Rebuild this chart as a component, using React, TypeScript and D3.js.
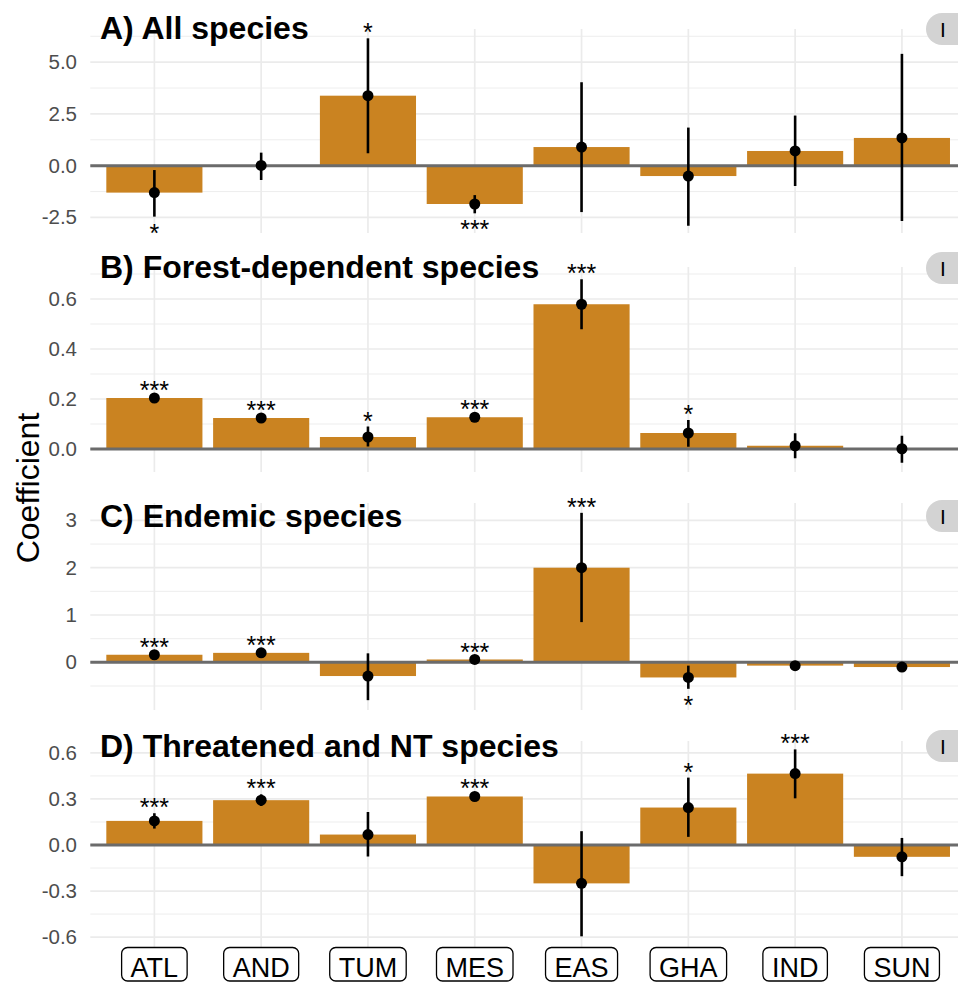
import React, { useEffect, useRef } from "react";
import * as d3 from "d3";

const categories = ["ATL", "AND", "TUM", "MES", "EAS", "GHA", "IND", "SUN"];

const titles = [
  "A) All species",
  "B) Forest-dependent species",
  "C) Endemic species",
  "D) Threatened and NT species",
];

const coefA = [-1.3, 0.01, 3.38, -1.85, 0.9, -0.5, 0.71, 1.34];
const lowerA = [-2.46, -0.69, 0.6, -2.3, -2.24, -2.9, -0.98, -2.67];
const upperA = [-0.21, 0.63, 6.15, -1.42, 4.03, 1.84, 2.42, 5.4];
const sigA = ["*", "", "*", "***", "", "", "", ""];

const coefB = [0.204, 0.124, 0.048, 0.127, 0.579, 0.064, 0.013, 0.001];
const lowerB = [0.196, 0.116, 0.01, 0.119, 0.479, 0.009, -0.037, -0.055];
const upperB = [0.212, 0.132, 0.09, 0.135, 0.679, 0.116, 0.063, 0.053];
const sigB = ["***", "***", "*", "***", "***", "*", "", ""];

const coefC = [0.16, 0.2, -0.29, 0.06, 2.0, -0.32, -0.07, -0.1];
const lowerC = [0.12, 0.16, -0.8, 0.03, 0.85, -0.56, -0.1, -0.13];
const upperC = [0.2, 0.24, 0.19, 0.09, 3.16, -0.07, -0.04, -0.07];
const sigC = ["***", "***", "", "***", "***", "*", "", ""];

const coefD = [0.157, 0.292, 0.068, 0.316, -0.25, 0.244, 0.465, -0.077];
const lowerD = [0.107, 0.254, -0.075, 0.3, -0.595, 0.053, 0.304, -0.203];
const upperD = [0.207, 0.33, 0.215, 0.332, 0.09, 0.439, 0.623, 0.046];
const sigD = ["***", "***", "", "***", "", "*", "***", ""];

const majorA = [-2.5, 0, 2.5, 5];
const minorA = [-1.25, 1.25, 3.75, 6.25];
const majorB = [0, 0.2, 0.4, 0.6];
const minorB = [0.1, 0.3, 0.5, 0.7];
const majorC = [0, 1, 2, 3];
const minorC = [-0.5, 0.5, 1.5, 2.5];
const majorD = [-0.6, -0.3, 0, 0.3, 0.6];
const minorD = [-0.45, -0.15, 0.15, 0.45];

const badgeText = "I";
const yTitle = "Coefficient";

const W = 958;
const H = 982;
const FONT = "'Liberation Sans', Arial, Helvetica, sans-serif";
const BAR = "#CA8321";

export default function App() {
  const ref = useRef<SVGSVGElement>(null);

  useEffect(() => {
    document.body.style.margin = "0";
    const svg = d3.select(ref.current);
    svg.selectAll("*").remove();

    const panels = [
      { coef: coefA, lower: lowerA, upper: upperA, sig: sigA, major: majorA, minor: minorA, fmt: ".1f", domain: [-3.25, 6.6], top: 29, bottom: 233, titleY: 39, badgeY: 29 },
      { coef: coefB, lower: lowerB, upper: upperB, sig: sigB, major: majorB, minor: minorB, fmt: ".1f", domain: [-0.092, 0.728], top: 267, bottom: 472, titleY: 278, badgeY: 268 },
      { coef: coefC, lower: lowerC, upper: upperC, sig: sigC, major: majorC, minor: minorC, fmt: "d", domain: [-1.008, 3.368], top: 503, bottom: 710, titleY: 527, badgeY: 516 },
      { coef: coefD, lower: lowerD, upper: upperD, sig: sigD, major: majorD, minor: minorD, fmt: ".1f", domain: [-0.6645, 0.6775], top: 741, bottom: 947, titleY: 757, badgeY: 746 },
    ];

    const left = 90.3;
    const right = 966;
    const x = d3.scaleBand<string>().domain(categories).range([left, right]).paddingInner(0.1).paddingOuter(0.15);
    const bw = x.bandwidth();
    const cx = (c: string) => (x(c) as number) + bw / 2;

    panels.forEach((p, pi) => {
      const y = d3.scaleLinear().domain(p.domain).range([p.bottom, p.top]);
      const g = svg.append("g");
      g.selectAll(".mn").data(p.minor).enter().append("line")
        .attr("x1", left).attr("x2", right)
        .attr("y1", (d) => y(d)).attr("y2", (d) => y(d))
        .attr("stroke", "#ebebeb").attr("stroke-width", 0.9);
      g.selectAll(".mj").data(p.major).enter().append("line")
        .attr("x1", left).attr("x2", right)
        .attr("y1", (d) => y(d)).attr("y2", (d) => y(d))
        .attr("stroke", "#ebebeb").attr("stroke-width", 1.7);
      g.selectAll(".vg").data(categories).enter().append("line")
        .attr("x1", (d) => cx(d)).attr("x2", (d) => cx(d))
        .attr("y1", p.top).attr("y2", p.bottom)
        .attr("stroke", "#ebebeb").attr("stroke-width", 1.7);
      const f = d3.format(p.fmt);
      g.selectAll(".tl").data(p.major).enter().append("text")
        .attr("x", 77).attr("y", (d) => y(d) + 7)
        .attr("text-anchor", "end")
        .attr("font-family", FONT).attr("font-size", 20.5)
        .attr("fill", "#4d4d4d")
        .text((d) => f(d).replace("\u2212", "-"));
      g.selectAll(".bar").data(categories).enter().append("rect")
        .attr("x", (d) => x(d) as number)
        .attr("width", bw)
        .attr("y", (d, i) => Math.min(y(p.coef[i]), y(0)))
        .attr("height", (d, i) => Math.abs(y(p.coef[i]) - y(0)))
        .attr("fill", BAR);
      g.append("line").attr("x1", left).attr("x2", right)
        .attr("y1", y(0)).attr("y2", y(0))
        .attr("stroke", "#6b6b6b").attr("stroke-width", 3);
      g.selectAll(".eb").data(categories).enter().append("line")
        .attr("x1", (d) => cx(d)).attr("x2", (d) => cx(d))
        .attr("y1", (d, i) => y(p.lower[i])).attr("y2", (d, i) => y(p.upper[i]))
        .attr("stroke", "#000").attr("stroke-width", 2.6);
      g.selectAll(".pt").data(categories).enter().append("circle")
        .attr("cx", (d) => cx(d)).attr("cy", (d, i) => y(p.coef[i]))
        .attr("r", 5.5).attr("fill", "#000");
      g.selectAll(".st").data(categories).enter().append("text")
        .attr("x", (d) => cx(d))
        .attr("y", (d, i) => p.coef[i] >= 0 ? y(p.upper[i]) + 3 : y(p.lower[i]) + 25)
        .attr("text-anchor", "middle")
        .attr("font-family", FONT).attr("font-size", 25)
        .attr("fill", "#000")
        .text((d, i) => p.sig[i]);
      g.append("text").attr("x", 100).attr("y", p.titleY)
        .attr("font-family", FONT).attr("font-size", 32).attr("font-weight", "bold")
        .attr("fill", "#000").text(titles[pi]);
      g.append("rect").attr("x", 926).attr("y", p.badgeY - 16)
        .attr("width", 80).attr("height", 32).attr("rx", 16)
        .attr("fill", "#d3d3d3");
      g.append("text").attr("x", 940).attr("y", p.badgeY + 7.5)
        .attr("font-family", FONT).attr("font-size", 21).attr("fill", "#000")
        .text(badgeText);
    });

    const xl = svg.append("g");
    categories.forEach((c) => {
      const t = xl.append("text").attr("x", cx(c)).attr("y", 976.5)
        .attr("text-anchor", "middle")
        .attr("font-family", FONT).attr("font-size", 27).attr("fill", "#000")
        .text(c);
      const tw = (t.node() as SVGTextElement).getComputedTextLength();
      xl.insert("rect", "text")
        .attr("x", cx(c) - tw / 2 - 9).attr("y", 947.5)
        .attr("width", tw + 18).attr("height", 33.5)
        .attr("rx", 6)
        .attr("fill", "#fff").attr("stroke", "#000").attr("stroke-width", 1.3);
    });

    svg.append("text")
      .attr("transform", "translate(39,488) rotate(-90)")
      .attr("text-anchor", "middle")
      .attr("font-family", FONT).attr("font-size", 32).attr("fill", "#000")
      .text(yTitle);
  }, []);

  return (
    <svg ref={ref} width={W} height={H} style={{ display: "block", background: "#fff" }} />
  );
}
